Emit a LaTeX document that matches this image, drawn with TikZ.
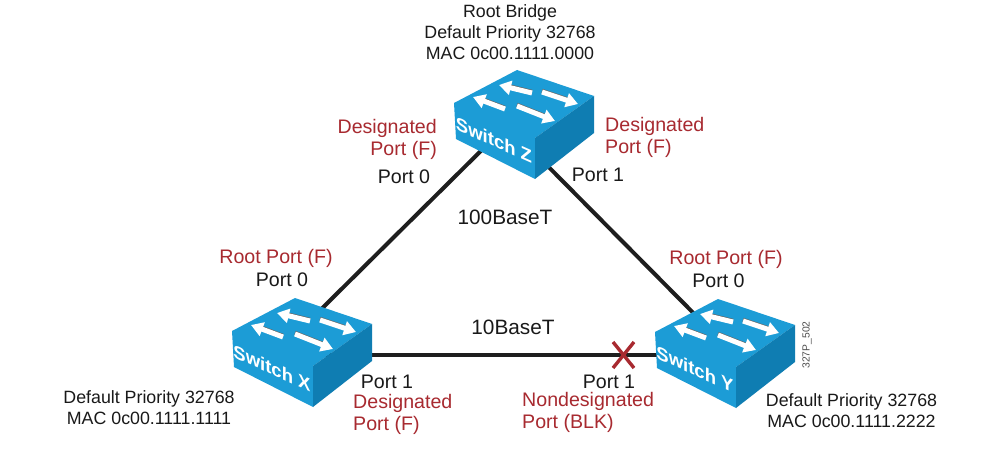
\documentclass[tikz,border=0pt]{standalone}
\usepackage{fontspec}
\setmainfont{Liberation Sans}
\usetikzlibrary{arrows.meta,calc}
\definecolor{swtop}{HTML}{1C9CD6}
\definecolor{swside}{HTML}{0F7DB2}
\definecolor{redtxt}{HTML}{A82A30}
\definecolor{linkc}{HTML}{1E1E1E}
\tikzset{
  x=1pt,y=-1pt,
  lbl/.style={font=\fontsize{17.8}{21}\selectfont,text=black!90,inner sep=0pt,align=center},
  bluelbl/.style={lbl,font=\fontsize{19.6}{22}\selectfont},
  redlbl/.style={bluelbl,text=redtxt},
  medialbl/.style={lbl,font=\fontsize{20.8}{22}\selectfont},
  link/.style={draw=linkc,line width=4pt},
  swarrow/.style={draw=white,line width=5pt,-{Triangle[length=12pt,width=14pt,fill=white]}},
  swname/.style={text=white,font=\fontsize{18.5}{20}\bfseries\selectfont,inner sep=0pt,transform shape,yslant=-0.45},
}
\newcommand{\swdraw}[4]{% x y name label
  \begin{scope}[shift={(#1,#2)}]
    \fill[swtop] (0,0) -- (63,-33) -- (140,-7) -- (81,35) -- (81,76) -- (2,36) -- cycle;
    \fill[swside] (140,-7) -- (140,30) -- (81,76) -- (81,35) -- cycle;
    \foreach \tx/\ty/\hx/\hy in {78/-10/45/-18,88/-11/124/1,51/6/19/-6,63/3/101/18}{
      \draw[black!60,line width=4pt,shorten >=8pt] (\tx,\ty-1.2) -- (\hx,\hy-1.2);
      \draw[swarrow] (\tx,\ty) -- (\hx,\hy);
    }
    \node[swname] (#3) at (40,37) {#4};
  \end{scope}
}
\begin{document}
\begin{tikzpicture}
\useasboundingbox (0,0) rectangle (991,465);
\fill[white] (0,0) rectangle (991,465);
\coordinate (cz) at (507,125);
\coordinate (cx) at (275,355);
\coordinate (cy) at (735,355);
\coordinate (xmark) at (623.5,355);
\draw[link] (cz) -- (cx);
\draw[link] (cz) -- (cy);
\draw[link] (cx) -- (cy);
\swdraw{454}{103}{swz}{Switch Z}
\swdraw{232}{331}{swx}{Switch X}
\swdraw{655}{332}{swy}{Switch Y}
\draw[redtxt,line width=3.4pt] ($(xmark)+(-10.5,-13)$) -- ($(xmark)+(10.5,13)$);
\draw[redtxt,line width=3.4pt] ($(xmark)+(10.5,-13)$) -- ($(xmark)+(-10.5,13)$);
\node[lbl] (rootinfo) at (510,32) {Root Bridge\\Default Priority 32768\\MAC 0c00.1111.0000};
\node[redlbl,align=right,anchor=east] (dz0) at (437,139) {Designated\\Port (F)};
\node[bluelbl] (pz0) at (404,177) {Port 0};
\node[redlbl,align=left,anchor=west] (dz1) at (605,137) {Designated\\Port (F)};
\node[bluelbl] (pz1) at (598,175) {Port 1};
\node[medialbl] (t100) at (505,217) {100BaseT};
\node[medialbl] (t10) at (513,327) {10BaseT};
\node[redlbl] (rx) at (276,258) {Root Port (F)};
\node[bluelbl] (px0) at (282,280) {Port 0};
\node[redlbl] (ry) at (726,259) {Root Port (F)};
\node[bluelbl] (py0) at (718.5,281) {Port 0};
\node[lbl] (xinfo) at (149,408) {Default Priority 32768\\MAC 0c00.1111.1111};
\node[bluelbl] (px1) at (387,382) {Port 1};
\node[redlbl,align=left,anchor=west] (dx1) at (353,414) {Designated\\Port (F)};
\node[bluelbl] (py1) at (609,382) {Port 1};
\node[redlbl,align=left,anchor=west] (ny) at (522,412) {Nondesignated\\Port (BLK)};
\node[lbl] (yinfo) at (851.5,411) {Default Priority 32768\\MAC 0c00.1111.2222};
\node[text=black!70,font=\fontsize{10.3}{11}\selectfont,rotate=90,inner sep=0pt] (code) at (807,345) {327P\_502};
\end{tikzpicture}
\end{document}
